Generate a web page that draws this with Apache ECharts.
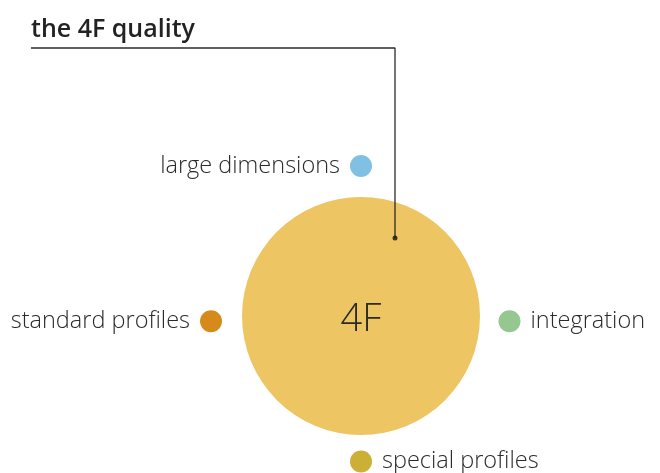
<!DOCTYPE html>
<html><head><meta charset="utf-8">
<script src="https://cdn.jsdelivr.net/npm/echarts@6/dist/echarts.min.js"></script>
<style>html,body{margin:0;padding:0;background:#fff}#c{width:660px;height:473px}</style>
</head><body><div id="c"></div>
<script>
const titleText = 'the 4F quality';
const centerLabel = '4F';
const categories = ['large dimensions', 'standard profiles', 'integration', 'special profiles'];
const catX = [0, -1, 0.99, 0];
const catY = [1, -0.035, -0.035, -0.97];
const catColors = ['#80c0e3', '#d68a1c', '#95c790', '#cbaf37'];
const catSides = ['left', 'left', 'right', 'right'];

const chart = echarts.init(document.getElementById('c'), null, {renderer: 'canvas'});
const font = '"Open Sans", sans-serif';
chart.setOption({
  animation: false,
  title: {text: titleText, left: 31, top: 17, padding: 0,
    textStyle: {fontFamily: font, fontWeight: 600, fontSize: 25, color: '#222'}},
  grid: {left: 0, right: 0, top: 0, bottom: 0},
  xAxis: {type: 'value', min: -361/150, max: 299/150, show: false},
  yAxis: {type: 'value', min: -157/150, max: 316/150, show: false},
  series: [
    {type: 'scatter', symbolSize: 238, z: 1,
     itemStyle: {color: '#eec563', opacity: 1},
     label: {show: true, position: 'inside', formatter: centerLabel, offset: [0, 4],
       fontFamily: font, fontWeight: 300, fontSize: 38, color: '#2a2a2a'},
     data: [[0, 0]]},
    {type: 'line', z: 3, symbol: 'none', silent: true,
     lineStyle: {color: '#2b2b2b', width: 1.3},
     data: [[-2.2, 268/150], [34/150, 268/150], [34/150, 78/150]]},
    {type: 'scatter', z: 4, symbolSize: 5, itemStyle: {color: '#111'},
     data: [[34/150, 78/150]]},
    {type: 'scatter', symbolSize: 22, z: 2,
     data: categories.map((c, i) => ({
       value: [catX[i], catY[i]], name: c,
       itemStyle: {color: catColors[i], opacity: 1},
       label: {show: true, position: catSides[i], distance: 10, formatter: c,
         fontFamily: font, fontWeight: 300, fontSize: 23.5, color: '#2a2a2a'}
     }))}
  ]
});
</script></body></html>
